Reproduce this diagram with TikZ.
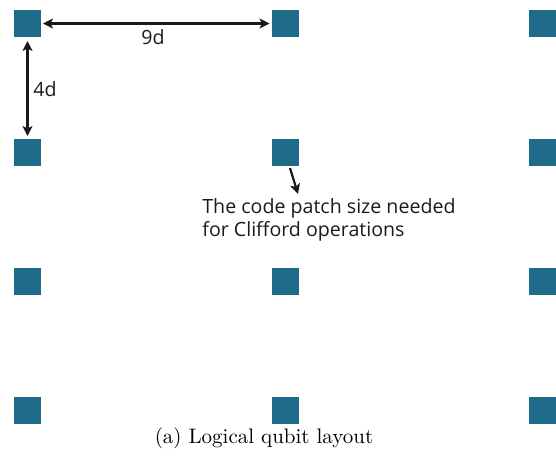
\documentclass[tikz,border=0pt]{standalone}
\usepackage{fontspec}
\newfontfamily\labelfont{Open Sans}
\usetikzlibrary{arrows.meta}
\definecolor{patch}{RGB}{31,108,138}
\definecolor{ink}{RGB}{26,26,26}
\tikzset{
  x=0.5pt, y=-0.5pt,
  qb/.style={fill=patch, draw=none, minimum size=13.5pt, inner sep=0pt, outer sep=0pt},
  dim/.style={draw=ink, line width=1.2pt, {Stealth[length=5pt,width=5pt,inset=1.2pt]}-{Stealth[length=5pt,width=5pt,inset=1.2pt]}},
  ptr/.style={draw=ink, line width=1.1pt, -{Stealth[length=5pt,width=5pt,inset=1.2pt]}},
  lbl/.style={font=\labelfont\fontsize{9.8}{11.5}\selectfont, text=ink, inner sep=0pt},
}
\begin{document}
\begin{tikzpicture}
\useasboundingbox (0,0) rectangle (556,457);
% grid of logical qubit patches
\foreach \r/\y in {1/23.5, 2/152.5, 3/281, 4/410.5}{
  \foreach \c/\x in {1/27.5, 2/285, 3/542.5}{
    \node[qb] (q\r\c) at (\x,\y) {};
  }
}
% spacing dimensions
\draw[dim, shorten <=1pt, shorten >=1pt] (q11.east) -- (q12.west);
\node[lbl, anchor=center] (hd) at (153,37) {9d};
\draw[dim, shorten <=2pt, shorten >=1.5pt] (q11.south) -- (q21.north);
\node[lbl, anchor=west] (vd) at (33,89) {4d};
% annotation of the patch size
\node[lbl, anchor=north west, align=left] (note) at (202,198)
  {The code patch size needed\\for Clifford operations};
\coordinate (tip) at (298,194);
\draw[ptr] ([xshift=2.5pt,yshift=-1pt]q22.south) -- (tip);
% caption
\node[anchor=center, inner sep=0pt, font=\fontsize{10.5}{12}\selectfont] (cap) at (264,438) {(a) Logical qubit layout};
\end{tikzpicture}
\end{document}
